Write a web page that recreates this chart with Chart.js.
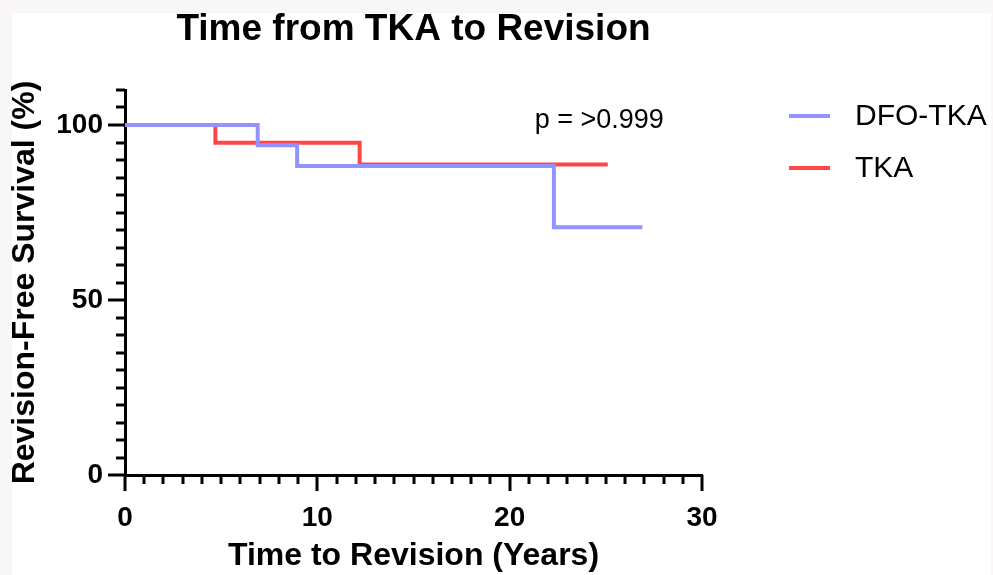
<!DOCTYPE html>
<html>
<head>
<meta charset="utf-8">
<script src="https://cdn.jsdelivr.net/npm/chart.js@4.4.1/dist/chart.umd.min.js"></script>
<style>
    html, body { margin: 0; padding: 0; background: #f8f6f7; }
    #sheet { position: absolute; left: 12px; top: 13px; width: 979px; height: 562px; background: #ffffff; }
    #wrap { position: absolute; left: 0; top: 0; width: 993px; height: 575px; }
</style>
</head>
<body>
<div id="sheet"></div>
<div id="wrap"><canvas id="kmChart" width="993" height="575"></canvas></div>
<script>
// Kaplan-Meier steps (time in years, survival in %)
const dfoTimes = [0, 6.9, 8.95, 22.3, 26.9];
const dfoSurvival = [100, 94.2, 88.3, 70.8, 70.8];
const tkaTimes = [0, 4.7, 12.2, 25.1];
const tkaSurvival = [100, 94.9, 88.7, 88.7];

const seriesNames = ['DFO-TKA', 'TKA'];
const xTickLabels = [0, 10, 20, 30];
const yTickLabels = [0, 50, 100];
const pValueText = 'p = >0.999';

const FONT = "'Liberation Sans', Arial, sans-serif";

function toPoints(times, values) {
    return times.map((t, i) => ({ x: t, y: values[i] }));
}

// Prism-style ticks: long majors, short minors, outside the axes
const axisTicks = {
    id: 'axisTicks',
    afterDraw(chart) {
        const { ctx, chartArea, scales: { x, y } } = chart;
        ctx.save();
        ctx.strokeStyle = '#000';
        ctx.lineWidth = 3;
        for (let v = x.min; v <= x.max; v += 1) {
            const px = Math.round(x.getPixelForValue(v));
            const len = xTickLabels.includes(v) ? 16 : 9;
            ctx.beginPath();
            ctx.moveTo(px, chartArea.bottom);
            ctx.lineTo(px, chartArea.bottom + len);
            ctx.stroke();
        }
        for (let v = y.min; v <= y.max; v += 5) {
            const py = Math.round(y.getPixelForValue(v));
            const len = yTickLabels.includes(v) ? 17 : 9;
            ctx.beginPath();
            ctx.moveTo(chartArea.left, py);
            ctx.lineTo(chartArea.left - len, py);
            ctx.stroke();
        }
        // p value annotation
        ctx.fillStyle = '#000';
        ctx.font = '27px ' + FONT;
        ctx.textBaseline = 'middle';
        ctx.textAlign = 'left';
        ctx.fillText(pValueText, x.getPixelForValue(21.3), y.getPixelForValue(101.3));
        ctx.restore();
    }
};

// Legend on the right: short line + name
const sideLegend = {
    id: 'sideLegend',
    afterDraw(chart) {
        const { ctx } = chart;
        ctx.save();
        chart.data.datasets.forEach((ds, i) => {
            const yy = 116 + i * 52;
            ctx.strokeStyle = ds.borderColor;
            ctx.lineWidth = 4;
            ctx.beginPath();
            ctx.moveTo(789, yy);
            ctx.lineTo(830, yy);
            ctx.stroke();
            ctx.fillStyle = '#000';
            ctx.font = '30px ' + FONT;
            ctx.textBaseline = 'middle';
            ctx.fillText(ds.label, 855, yy + 1);
        });
        ctx.restore();
    }
};

document.addEventListener('DOMContentLoaded', function() {
    const ctx = document.getElementById('kmChart');

    new Chart(ctx, {
        type: 'line',
        data: {
            datasets: [{
                label: seriesNames[0],
                data: toPoints(dfoTimes, dfoSurvival),
                borderColor: '#9393ff',
                borderWidth: 4,
                stepped: true,
                pointRadius: 0,
                fill: false
            }, {
                label: seriesNames[1],
                data: toPoints(tkaTimes, tkaSurvival),
                borderColor: '#ff4646',
                borderWidth: 4,
                stepped: true,
                pointRadius: 0,
                fill: false
            }]
        },
        options: {
            responsive: false,
            animation: false,
            layout: { padding: { left: 0, right: 291, top: 0, bottom: 0 } },
            scales: {
                x: {
                    type: 'linear',
                    min: 0,
                    max: 30,
                    afterBuildTicks: s => { s.ticks = xTickLabels.map(v => ({ value: v })); },
                    afterFit: s => { s.height = 100; },
                    grid: { display: false, drawTicks: false },
                    border: { display: true, width: 3, color: '#000' },
                    ticks: { color: '#000', padding: 26, font: { family: FONT, size: 28, weight: 'bold' }, maxRotation: 0 },
                    title: {
                        display: true,
                        text: 'Time to Revision (Years)',
                        color: '#000',
                        font: { family: FONT, size: 32, weight: 'bold', lineHeight: 1 },
                        padding: { top: 0, bottom: 3 }
                    }
                },
                y: {
                    min: 0,
                    max: 110,
                    afterBuildTicks: s => { s.ticks = yTickLabels.map(v => ({ value: v })); },
                    afterFit: s => { s.width = 125; },
                    grid: { display: false, drawTicks: false },
                    border: { display: true, width: 3, color: '#000' },
                    ticks: { color: '#000', padding: 22, font: { family: FONT, size: 28, weight: 'bold' } },
                    title: {
                        display: true,
                        text: 'Revision-Free Survival (%)',
                        color: '#000',
                        font: { family: FONT, size: 32, weight: 'bold', lineHeight: 1 },
                        padding: { top: 9, bottom: 0 }
                    }
                }
            },
            plugins: {
                legend: { display: false },
                tooltip: { enabled: false },
                title: {
                    display: true,
                    text: 'Time from TKA to Revision',
                    color: '#000',
                    fullSize: false,
                    font: { family: FONT, size: 37, weight: 'bold', lineHeight: 1 },
                    padding: { top: 11, bottom: 42 }
                }
            }
        },
        plugins: [axisTicks, sideLegend]
    });
});
</script>
</body>
</html>
